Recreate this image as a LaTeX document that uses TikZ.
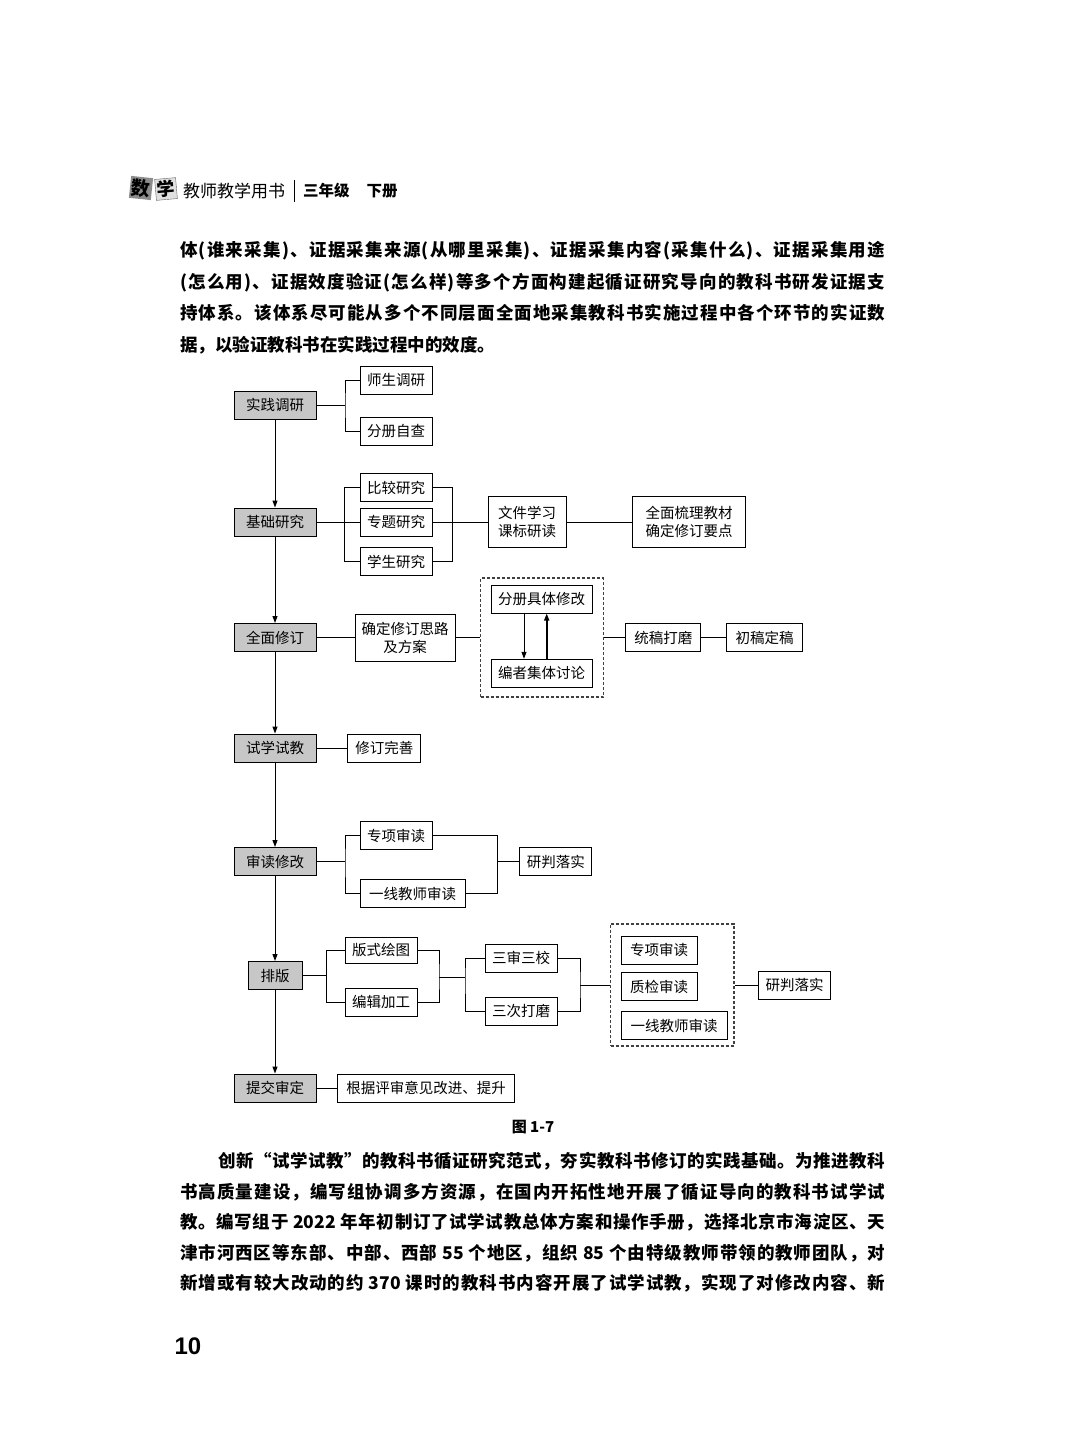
\documentclass[tikz,border=0pt]{standalone}
\usepackage{fontspec}
\usetikzlibrary{arrows.meta,fit}
\newfontfamily\cjk{Noto Sans CJK SC}
\newfontfamily\numfont{Liberation Sans}
% spread the characters of one line over a given width
\makeatletter
\def\jline#1#2{\hbox to #1{\expandafter\spread@first#2\@nil}}
\def\spread@first#1{#1\spread@}
\def\spread@#1{\ifx\@nil#1\else\hskip0pt plus1fil#1\expandafter\spread@\fi}
\makeatother
\def\nyear{\hspace{4pt}2022\hspace{4pt}}
\def\nfive{\hspace{4pt}55\hspace{4pt}}
\def\neight{\hspace{4pt}85\hspace{4pt}}
\def\nhour{\hspace{4pt}370\hspace{4pt}}
\begin{document}
\begin{tikzpicture}[x=1pt,y=-1pt,
  box/.style={draw,line width=1pt,fill=white,inner sep=2pt,minimum height=28pt,minimum width=72pt,
    align=center,font=\cjk\fontsize{14.5}{18}\selectfont},
  stage/.style={box,fill=black!22,minimum width=82pt},
  link/.style={line width=1pt},
  flow/.style={line width=1pt,-{Triangle[length=7pt,width=5pt]}},
  group/.style={draw=black!75,dash pattern=on 3pt off 2pt,line width=1.2pt,inner sep=0pt},
  body/.style={anchor=base west,inner sep=0pt,font=\cjk\bfseries\fontsize{17.5}{20}\selectfont}]
\useasboundingbox (0,0) rectangle (1080,1454);
\fill[white] (0,0) rectangle (1080,1454);
% running head
\node[fill=black!45,rotate=-6,minimum size=22pt,inner sep=0pt,font=\cjk\bfseries\fontsize{19}{19}\selectfont] (logoa) at (141,188) {数};
\node[fill=black!12,draw=black!60,rotate=5,minimum size=21pt,inner sep=0pt,font=\cjk\bfseries\fontsize{18}{18}\selectfont] (logob) at (166,189) {学};
\node[anchor=west,inner sep=0pt,font=\cjk\fontsize{17}{17}\selectfont] (series) at (183,191) {教师教学用书};
\draw[line width=.8pt] (294,180) -- (294,202);
\node[anchor=west,inner sep=0pt,font=\cjk\bfseries\fontsize{15.5}{16}\selectfont] (grade) at (303,191) {三年级\hspace{17pt}下册};
% text above the figure
\foreach\y/\t in {256.5/{体(谁来采集)、证据采集来源(从哪里采集)、证据采集内容(采集什么)、证据采集用途},
  288/{(怎么用)、证据效度验证(怎么样)等多个方面构建起循证研究导向的教科书研发证据支},
  319.5/{持体系。该体系尽可能从多个不同层面全面地采集教科书实施过程中各个环节的实证数}}
  {\node[body] at (180,\y) {\jline{705pt}{\t}};}
\node[body] (lastline) at (180,351.5) {据，以验证教科书在实践过程中的效度。};
% main stages
\node[stage] (survey) at (275,405) {实践调研};
\node[stage] (basic) at (275,522) {基础研究};
\node[stage] (revise) at (275,637.5) {全面修订};
\node[stage] (trial) at (275,748) {试学试教};
\node[stage] (review) at (275,861.5) {审读修改};
\node[stage,minimum width=54pt] (layout) at (275,975.5) {排版};
\node[stage] (submit) at (275,1088) {提交审定};
% branches
\node[box] (tsurvey) at (396,380) {师生调研};
\node[box] (selfcheck) at (396,431) {分册自查};
\node[box] (compare) at (396,487.5) {比较研究};
\node[box] (topic) at (396,522) {专题研究};
\node[box] (student) at (396,561.5) {学生研究};
\node[box,minimum width=78pt,minimum height=51pt] (docs) at (527,522) {文件学习\\课标研读};
\node[box,minimum width=113pt,minimum height=51pt] (sort) at (689,522) {全面梳理教材\\确定修订要点};
\node[box,minimum width=100pt,minimum height=47pt] (plan) at (405,637.5) {确定修订思路\\及方案};
\node[box,minimum width=101pt] (detail) at (541.7,599) {分册具体修改};
\node[box,minimum width=101pt] (discuss) at (541.7,673.3) {编者集体讨论};
\node[group,fit={(480.7,578) (603.3,697)}] (revbox) {};
\node[box,minimum width=75pt] (polish) at (663.3,637.5) {统稿打磨};
\node[box,minimum width=76pt] (final) at (764.7,637.5) {初稿定稿};
\node[box,minimum width=73pt] (perfect) at (384.3,748) {修订完善};
\node[box] (spec) at (396,835.5) {专项审读};
\node[box,minimum width=105pt] (teacher) at (412.5,893.5) {一线教师审读};
\node[box] (judge) at (555.8,861.5) {研判落实};
\node[box,minimum height=26pt] (drawing) at (381,950) {版式绘图};
\node[box] (edit) at (381,1002) {编辑加工};
\node[box] (check) at (521,958) {三审三校};
\node[box] (twice) at (521,1011) {三次打磨};
\node[box,minimum width=76pt] (spec2) at (659,950) {专项审读};
\node[box,minimum width=76pt] (quality) at (659,986.7) {质检审读};
\node[box,minimum width=106pt] (teacher2) at (674,1025.5) {一线教师审读};
\node[group,fit={(610.7,924) (734,1046)}] (revbox2) {};
\node[box] (judge2) at (794.5,985) {研判落实};
\node[box,minimum width=177pt] (advice) at (426,1088) {根据评审意见改进、提升};
% joints
\coordinate (b1) at (345,405);
\coordinate (b5) at (345,861.5);
\coordinate (b6) at (497.3,861.5);
\coordinate (b7) at (326.7,975.5);
\coordinate (b8) at (439,977);
\coordinate (b9) at (465,977);
\coordinate (b10) at (580,985);
% connectors
\foreach\a/\b in {survey/basic,basic/revise,revise/trial,trial/review,review/layout,layout/submit}
  {\draw[flow] (\a) -- (\b);}
\foreach\a/\b in {basic/topic,topic/docs,docs/sort,revise/plan,plan/revbox,revbox/polish,polish/final,
  trial/perfect,review/b5,b6/judge,layout/b7,b8/b9,b10/revbox2,revbox2/judge2,submit/advice}
  {\draw[link] (\a) -- (\b);}
\draw[link] (survey) -- (b1);
\draw[link] (tsurvey.west) -| (b1) |- (selfcheck.west);
\draw[link] (compare.west) -- ++(-15,0) |- (student.west);
\draw[link] (compare.east) -- ++(20,0) |- (student.east);
\draw[link] (spec.west) -| (b5) |- (teacher.west);
\draw[link] (spec.east) -| (b6) |- (teacher.east);
\draw[link] (drawing.west) -| (b7) |- (edit.west);
\draw[link] (drawing.east) -| (b8) |- (edit.east);
\draw[link] (check.west) -| (b9) |- (twice.west);
\draw[link] (check.east) -| (b10) |- (twice.east);
\draw[flow] ([xshift=-17.7pt]detail.south) -- ([xshift=-17.7pt]discuss.north);
\draw[flow,line width=1.6pt] ([xshift=5pt]discuss.north) -- ([xshift=5pt]detail.south);
% caption and text below
\node[font=\cjk\bfseries\fontsize{15}{15}\selectfont] (cap) at (533,1127) {图 1-7};
\node[body] (para) at (218,1167.5) {\jline{667pt}{创新“试学试教”的教科书循证研究范式，夯实教科书修订的实践基础。为推进教科}};
\foreach\y/\t in {1198/{书高质量建设，编写组协调多方资源，在国内开拓性地开展了循证导向的教科书试学试},
  1228.5/{教。编写组于\nyear 年年初制订了试学试教总体方案和操作手册，选择北京市海淀区、天},
  1259/{津市河西区等东部、中部、西部\nfive 个地区，组织\neight 个由特级教师带领的教师团队，对},
  1289.5/{新增或有较大改动的约\nhour 课时的教科书内容开展了试学试教，实现了对修改内容、新}}
  {\node[body] at (180,\y) {\jline{705pt}{\t}};}
\node[font=\numfont\bfseries\fontsize{24}{24}\selectfont] (page) at (188,1346) {10};
\end{tikzpicture}
\end{document}
